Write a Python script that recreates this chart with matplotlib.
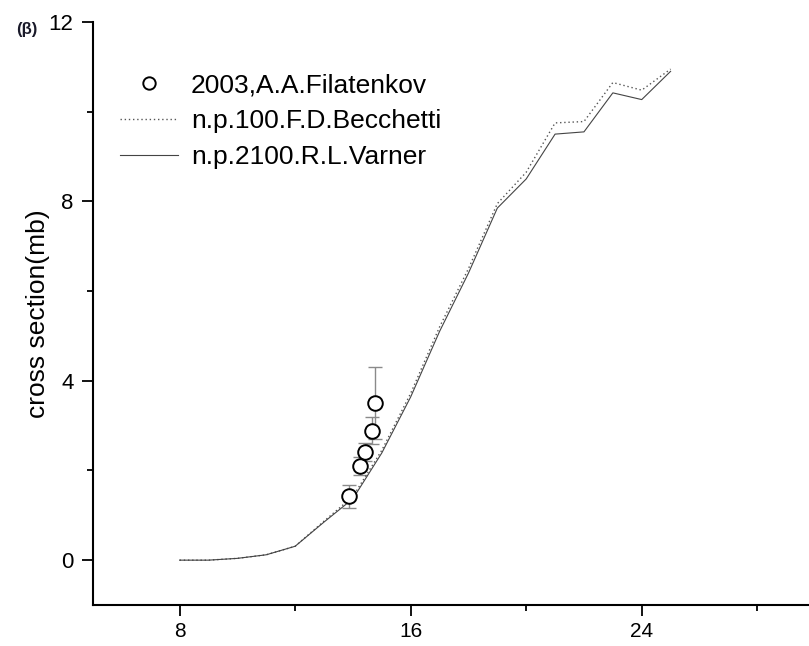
import numpy as np
import matplotlib.pyplot as plt
from matplotlib.ticker import MultipleLocator

plt.rcParams['font.family'] = ['Liberation Sans', 'DejaVu Sans']

# experimental points (Filatenkov 2003)
exp_e = [13.85, 14.26, 14.43, 14.65, 14.78]
exp_xs = [1.42, 2.09, 2.42, 2.89, 3.51]
exp_err = [0.25, 0.2, 0.2, 0.3, 0.8]

# model curves
energy = [8, 9, 10, 11, 12, 13, 14, 15, 16, 17, 18, 19, 20, 21, 22, 23, 24, 25]
becchetti = [0, 0, 0.04, 0.12, 0.31, 0.87, 1.42, 2.45, 3.72, 5.2, 6.5, 7.95,
             8.65, 9.75, 9.78, 10.65, 10.48, 10.95]
varner = [0, 0, 0.04, 0.12, 0.31, 0.85, 1.37, 2.39, 3.64, 5.1, 6.4, 7.85,
          8.5, 9.5, 9.55, 10.42, 10.27, 10.9]

fig = plt.figure(figsize=(8.09, 6.46), dpi=100)
ax = fig.add_axes([93 / 809, 41 / 646, 722 / 809, 583 / 646])

ax.errorbar(exp_e, exp_xs, yerr=exp_err, fmt='none', ecolor='#8a8a8a',
            elinewidth=1, capsize=5, capthick=1, zorder=2)
ax.plot(exp_e, exp_xs, 'o', mfc='white', mec='black', mew=1.4, ms=10.5,
        zorder=3, label='2003,A.A.Filatenkov')
ax.plot(energy, becchetti, color='#555555', lw=1, ls=(0, (1, 2)),
        label='n.p.100.F.D.Becchetti')
ax.plot(energy, varner, color='#444444', lw=0.8, label='n.p.2100.R.L.Varner')

ax.set_xlim(5, 30)
ax.set_ylim(-1, 12)
ax.xaxis.set_minor_locator(MultipleLocator(4))
ax.yaxis.set_minor_locator(MultipleLocator(2))
ax.set_xticks([8, 16, 24])
ax.set_yticks([0, 4, 8, 12])

for s in ['top', 'right']:
    ax.spines[s].set_visible(False)
for s in ['left', 'bottom']:
    ax.spines[s].set_linewidth(1.5)
ax.tick_params(which='major', length=8, width=1.3, labelsize=16, pad=6)
ax.tick_params(axis='x', which='major', pad=4, labelsize=15)
ax.tick_params(which='minor', length=4.3, width=1.3)

ax.set_ylabel('cross section(mb)', fontsize=19, labelpad=-1)

fs = 19
ax.legend(loc='upper left', bbox_to_anchor=(109 / 809, 1 - 63 / 646),
          bbox_transform=fig.transFigure, borderaxespad=0, frameon=False,
          fontsize=fs, handlelength=2.2, handletextpad=0.5, labelspacing=0.45,
          markerscale=0.85)

fig.text(0.02, 0.948, '(β)', fontsize=12, fontweight='bold', color='#1a1a2a')

fig.savefig('out.png', dpi=100)
